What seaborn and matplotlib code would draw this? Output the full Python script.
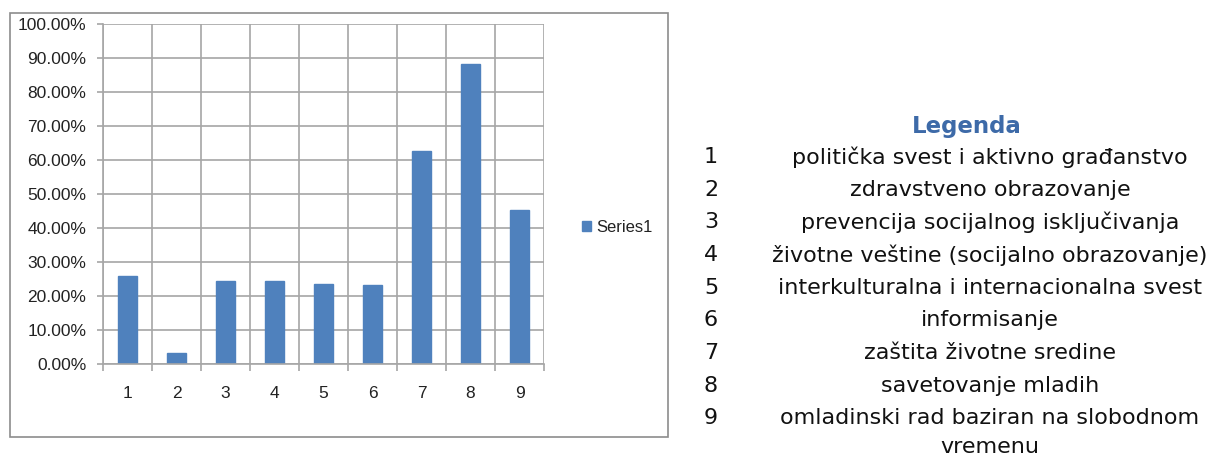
import matplotlib
matplotlib.use("Agg")
import matplotlib.pyplot as plt
import seaborn as sns
import pandas as pd
from matplotlib.patches import Rectangle
from matplotlib.ticker import PercentFormatter, MultipleLocator, FixedLocator

sns.set_theme(style="white")
plt.rcParams["font.family"] = ["Liberation Sans Narrow", "Liberation Sans", "DejaVu Sans"]

categories = ["1", "2", "3", "4", "5", "6", "7", "8", "9"]
values = [0.257, 0.030, 0.242, 0.242, 0.234, 0.231, 0.626, 0.883, 0.451]
series_name = "Series1"

legend_title = "Legenda"
legend_items = [
    "politička svest i aktivno građanstvo",
    "zdravstveno obrazovanje",
    "prevencija socijalnog isključivanja",
    "životne veštine (socijalno obrazovanje)",
    "interkulturalna i internacionalna svest",
    "informisanje",
    "zaštita životne sredine",
    "savetovanje mladih",
    "omladinski rad baziran na slobodnom\nvremenu",
]

W, H = 1216, 457
fig = plt.figure(figsize=(W / 100, H / 100), dpi=100)
fig.patch.set_facecolor("white")

# outer chart frame
fig.patches.append(Rectangle((10 / W, 1 - 437 / H), 658 / W, 424 / H,
                             transform=fig.transFigure, fill=False,
                             edgecolor="#8c8c8c", linewidth=1.2))

ax = fig.add_axes([103 / W, 1 - 363.5 / H, 441 / W, 339.5 / H])
df = pd.DataFrame({"cat": categories, "val": values})
sns.barplot(data=df, x="cat", y="val", color="#4f81bd", saturation=1,
            width=0.39, ax=ax, label=series_name, edgecolor="#4f81bd")

grid_c = "#a6a6a6"
ax.set_xlim(-0.5, len(categories) - 0.5)
ax.set_ylim(0, 1.0)
ax.yaxis.set_major_locator(MultipleLocator(0.1))
ax.yaxis.set_major_formatter(PercentFormatter(1.0, decimals=2))
ax.xaxis.set_minor_locator(FixedLocator([i - 0.5 for i in range(len(categories) + 1)]))
ax.grid(True, axis="y", which="major", color=grid_c, linewidth=1.2)
ax.grid(True, axis="x", which="minor", color=grid_c, linewidth=1.2)
ax.set_axisbelow(True)
for s in ["top", "right"]:
    ax.spines[s].set_visible(False)
for s in ["left", "bottom"]:
    ax.spines[s].set_color(grid_c)
    ax.spines[s].set_linewidth(1.2)
tick_fs = 12.5
ax.tick_params(axis="y", which="major", left=True, length=4, width=1.2,
               color=grid_c, pad=8, labelsize=tick_fs, labelcolor="#222222")
ax.tick_params(axis="x", which="major", bottom=False, length=0, pad=16,
               labelsize=tick_fs, labelcolor="#222222")
ax.tick_params(axis="x", which="minor", bottom=True, length=5, width=1.2, color=grid_c)
ax.set_xlabel("")
ax.set_ylabel("")

ax.legend(loc="center left", bbox_to_anchor=(582 / W, 1 - 227 / H),
          bbox_transform=fig.transFigure, frameon=False, fontsize=12,
          borderpad=0, borderaxespad=0,
          handlelength=0.55, handleheight=0.55, handletextpad=0.3,
          labelcolor="#222222")

# category legend on the right
legend_font = ["DejaVu Sans"]
fig.text(967 / W, 1 - 126 / H, legend_title, ha="center", va="center",
         fontsize=16.5, fontweight="bold", color="#3d6aa8", family=legend_font)
row_y = [157, 190, 222.5, 255, 287.5, 320, 353, 386, 418]
line_step = 29
for num, label, y in zip(categories, legend_items, row_y):
    fig.text(711 / W, 1 - y / H, num, ha="center", va="center",
             fontsize=16, color="#111111", family=legend_font)
    for k, part in enumerate(label.split("\n")):
        fig.text(990 / W, 1 - (y + k * line_step) / H, part, ha="center",
                 va="center", fontsize=16, color="#111111", family=legend_font)

fig.savefig("out.png", dpi=100, facecolor="white")
